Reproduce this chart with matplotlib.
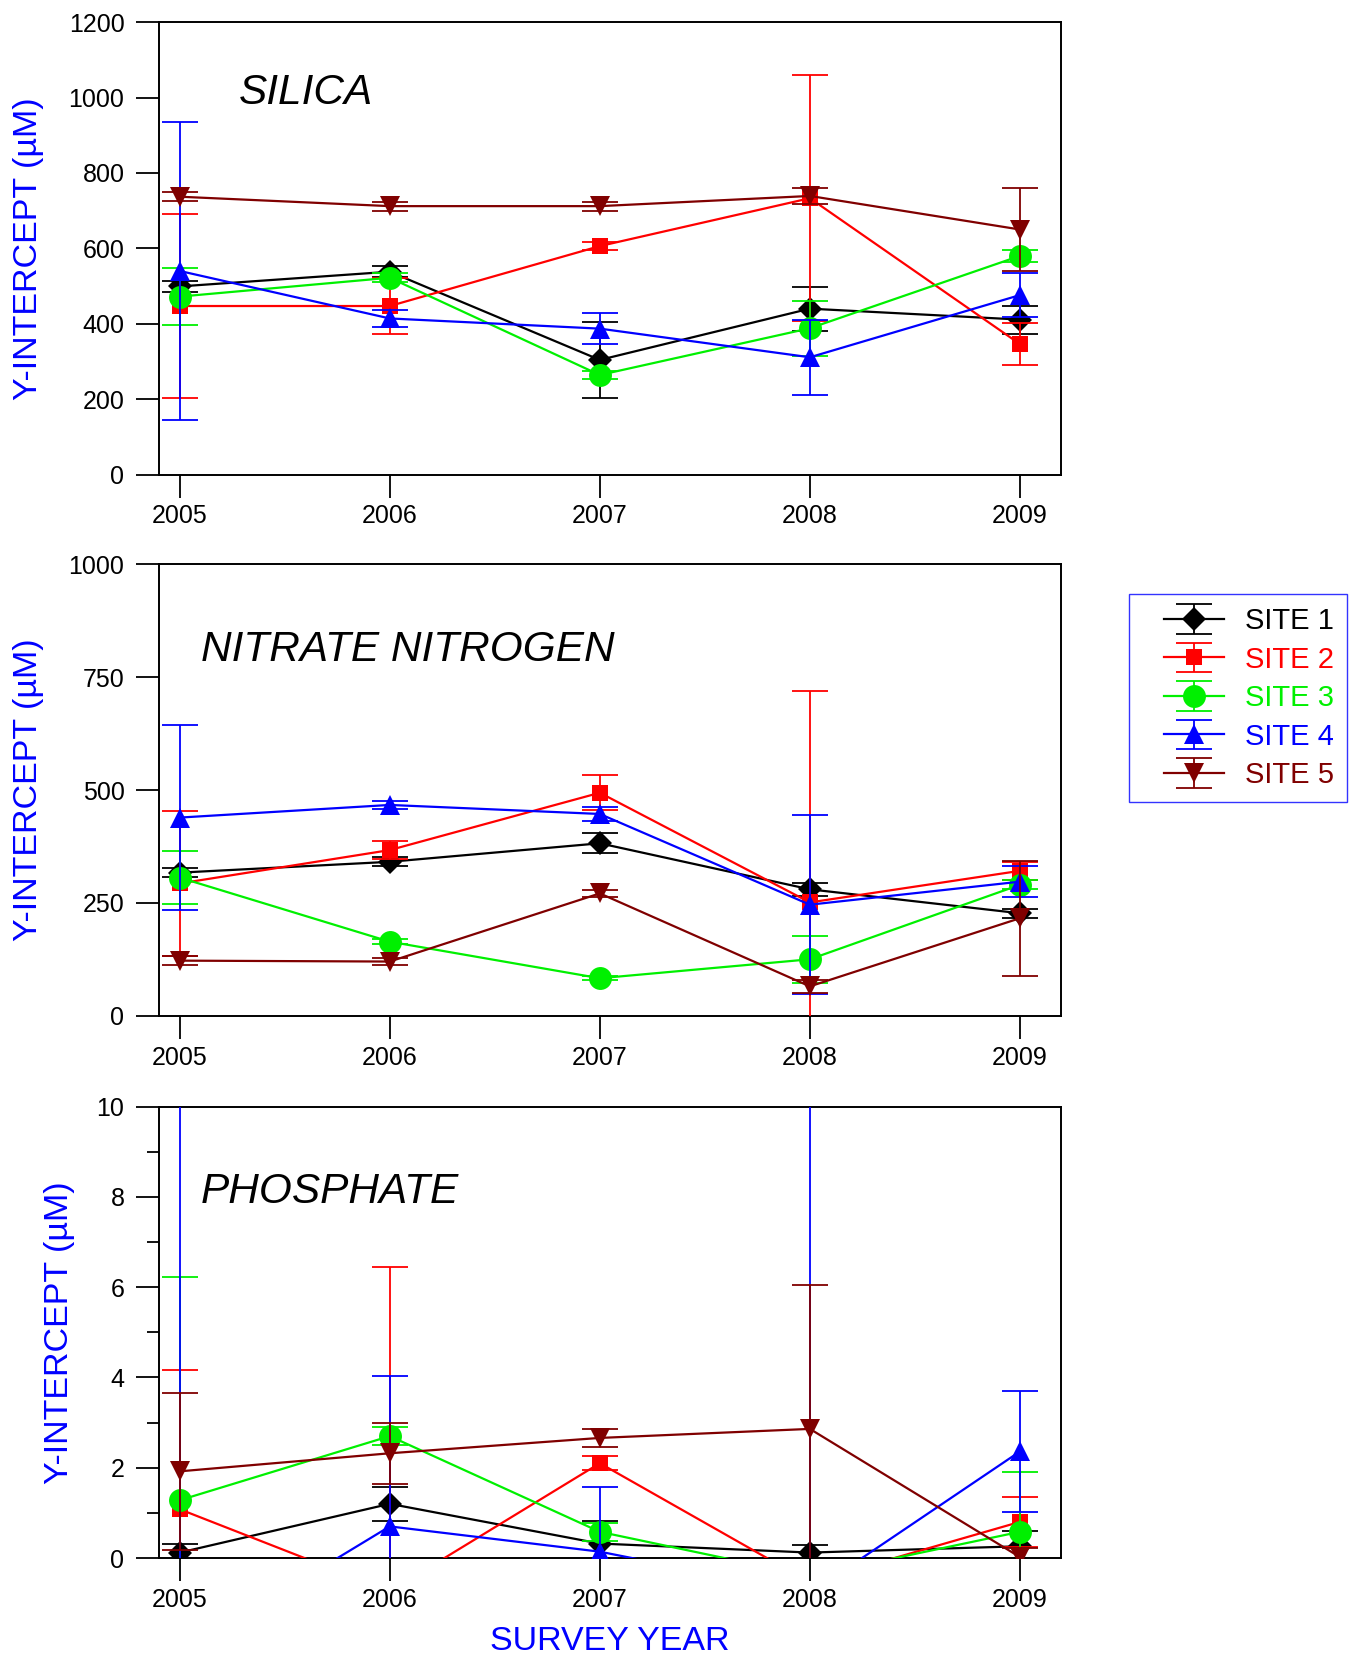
import matplotlib
matplotlib.use("Agg")
import matplotlib.pyplot as plt
from matplotlib.ticker import MultipleLocator
from matplotlib.legend_handler import HandlerErrorbar
from matplotlib.container import ErrorbarContainer

plt.rcParams['font.family'] = ['Liberation Sans', 'DejaVu Sans']

years = [2005, 2006, 2007, 2008, 2009]
sites = ["SITE 1", "SITE 2", "SITE 3", "SITE 4", "SITE 5"]
colors = ["#000000", "#ff0000", "#00f000", "#0000ff", "#800000"]
markers = ["D", "s", "o", "^", "v"]
msizes = [12, 12, 16.5, 14, 14]

# SILICA
silica_1 = [499, 538, 304, 440, 411]
silica_2 = [447, 447, 606, 733, 346]
silica_3 = [472, 522, 264, 388, 580]
silica_4 = [540, 414, 387, 311, 476]
silica_5 = [737, 712, 712, 739, 650]
silica_err_1 = [15, 15, 100, 58, 37]
silica_err_2 = [243, 75, 10, 326, 55]
silica_err_3 = [75, 12, 10, 73, 15]
silica_err_4 = [396, 22, 42, 100, 58]
silica_err_5 = [12, 12, 12, 22, 110]

# NITRATE NITROGEN
nitrate_1 = [317, 341, 382, 280, 227]
nitrate_2 = [293, 367, 494, 251, 321]
nitrate_3 = [306, 164, 83, 125, 290]
nitrate_4 = [439, 467, 447, 246, 297]
nitrate_5 = [122, 120, 271, 65, 216]
nitrate_err_1 = [10, 10, 22, 15, 10]
nitrate_err_2 = [160, 20, 39, 468, 20]
nitrate_err_3 = [59, 5, 5, 52, 10]
nitrate_err_4 = [205, 8, 15, 198, 35]
nitrate_err_5 = [10, 8, 8, 15, 127]

# PHOSPHATE
phosphate_1 = [0.12, 1.20, 0.32, 0.12, 0.26]
phosphate_2 = [1.08, -0.74, 2.10, -0.54, 0.80]
phosphate_3 = [1.28, 2.70, 0.58, -0.40, 0.58]
phosphate_4 = [-2.12, 0.70, 0.14, -0.78, 2.36]
phosphate_5 = [1.92, 2.32, 2.66, 2.86, 0.02]
phosphate_err_1 = [0.20, 0.37, 0.50, 0.16, 0.33]
phosphate_err_2 = [3.08, 7.18, 0.15, 0.30, 0.56]
phosphate_err_3 = [4.95, 0.20, 0.20, 0.20, 1.32]
phosphate_err_4 = [14.0, 3.34, 1.44, 12.0, 1.34]
phosphate_err_5 = [1.74, 0.68, 0.20, 3.18, 0.20]

panels = [
    ("SILICA", [silica_1, silica_2, silica_3, silica_4, silica_5],
     [silica_err_1, silica_err_2, silica_err_3, silica_err_4, silica_err_5],
     (0, 1200), 200, None, (0.089, 0.843), -0.127),
    ("NITRATE NITROGEN", [nitrate_1, nitrate_2, nitrate_3, nitrate_4, nitrate_5],
     [nitrate_err_1, nitrate_err_2, nitrate_err_3, nitrate_err_4, nitrate_err_5],
     (0, 1000), 250, None, (0.047, 0.81), -0.127),
    ("PHOSPHATE", [phosphate_1, phosphate_2, phosphate_3, phosphate_4, phosphate_5],
     [phosphate_err_1, phosphate_err_2, phosphate_err_3, phosphate_err_4, phosphate_err_5],
     (0, 10), 2, 1, (0.047, 0.811), -0.0925),
]

W, H = 1356, 1657
fig = plt.figure(figsize=(W / 100, H / 100), dpi=100)

left = 158.5 / W
width = (1061.1 - 158.5) / W
tops = [22.2, 564.4, 1106.6]
bottoms = [474.5, 1015.7, 1558.0]

handles = []
for i, (title, series, errs, ylim, major, minor, tpos, ylx) in enumerate(panels):
    ax = fig.add_axes([left, 1 - bottoms[i] / H, width, (bottoms[i] - tops[i]) / H])
    for j in range(5):
        c = ax.errorbar(years, series[j], yerr=errs[j], color=colors[j],
                        marker=markers[j], markersize=msizes[j],
                        markeredgewidth=0, lw=1.6, elinewidth=1.3,
                        capsize=13, capthick=1.3, zorder=2 + j)
        for cap in c[1]:
            cap.set_markeredgewidth(1.3)
        if i == 0:
            handles.append(c)
    ax.set_xlim(2004.899, 2009.196)
    ax.set_ylim(*ylim)
    ax.set_xticks(years)
    ax.set_xticklabels([str(y) for y in years])
    ax.yaxis.set_major_locator(MultipleLocator(major))
    if minor:
        ax.yaxis.set_minor_locator(MultipleLocator(minor))
    ax.tick_params(axis='both', which='major', direction='out', length=16.5,
                   width=1.3, labelsize=18)
    ax.tick_params(axis='y', which='minor', direction='out', length=8.5, width=1.3)
    ax.tick_params(axis='x', pad=5)
    ax.tick_params(axis='y', pad=8)
    for sp in ax.spines.values():
        sp.set_linewidth(1.4)
    ax.set_ylabel("Y-INTERCEPT (µM)", color="#0000ff", fontsize=24.5)
    ax.yaxis.set_label_coords(ylx, 0.5)
    ax.text(tpos[0], tpos[1], title, transform=ax.transAxes, style='italic',
            fontsize=30.5, va='center', ha='left')

fig.text(610 / W, 1 - 1641 / H, "SURVEY YEAR", color="#0000ff", fontsize=24.5,
         ha='center', va='center')

xpad = 0.75
leg = fig.legend(handles, sites, loc='upper left',
                 bbox_to_anchor=(1129 / W, 1 - 594 / H),
                 fontsize=21, frameon=True, fancybox=False,
                 edgecolor="#0000ff", handlelength=2.05 + xpad, handletextpad=0.72,
                 labelspacing=0.36, borderpad=0.45, borderaxespad=0,
                 handler_map={ErrorbarContainer: HandlerErrorbar(xpad=xpad)})
leg.get_frame().set_linewidth(1.0)
for t, c in zip(leg.get_texts(), colors):
    t.set_color(c)

fig.savefig("out.png", dpi=100)
